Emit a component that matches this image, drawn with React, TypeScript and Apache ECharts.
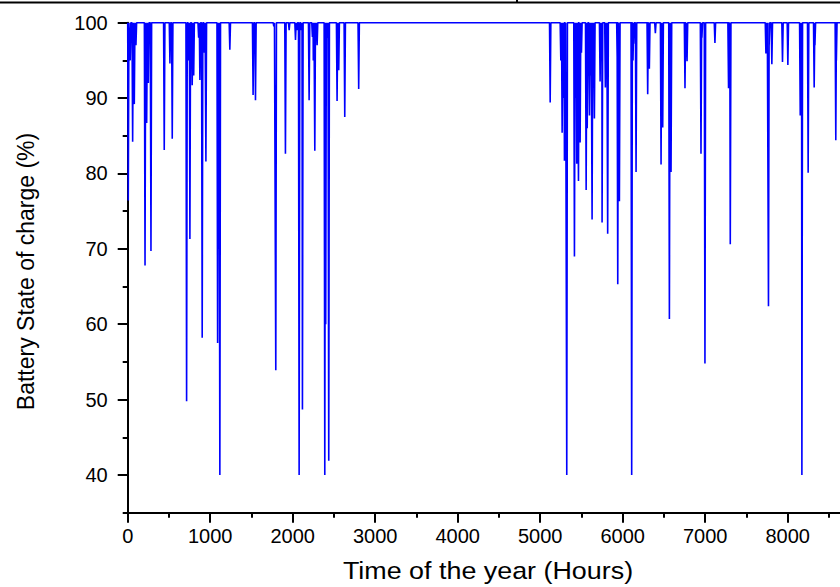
import React, { useEffect, useRef } from "react";
import * as echarts from "echarts";

// Hours of the year at which the battery state of charge dips, and the lowest value reached (%)
const dipHours = [
  7, 30, 60, 80, 100, 210, 230, 250, 282, 443, 512, 540, 714, 740, 754, 782, 800, 860, 875, 903, 930, 948,
  1090, 1100, 1117, 1238, 1520, 1549, 1771, 1795, 1912, 1957, 2034, 2050, 2078, 2105, 2118, 2199, 2239, 2250,
  2268, 2280, 2296, 2389, 2400, 2420, 2437, 2538, 2548, 2558, 2631, 2800,
  5121, 5250, 5266, 5280, 5294, 5300, 5322, 5415, 5430, 5443, 5464, 5470, 5484, 5500, 5557, 5570, 5597, 5610,
  5629, 5640, 5657, 5726, 5740, 5750, 5790, 5800, 5818, 5935, 5940, 5960, 6109, 6115, 6125, 6133, 6162, 6303,
  6310, 6323, 6396, 6465, 6485, 6566, 6575, 6586, 6755, 6760, 6780, 6949, 6960, 6997, 7118, 7283, 7290, 7304,
  7736, 7745, 7767, 7775, 7808, 7937, 8002, 8152, 8160, 8172, 8248, 8321, 8330, 8583, 8590,
];
const dipValues = [
  76.4, 95, 84.2, 89.2, 97, 67.8, 86.7, 92, 69.7, 83.1, 94.6, 84.6, 49.8, 95, 71.3, 91.7, 93, 98, 92.4, 58.2, 96, 81.6,
  57.5, 70, 40, 96.4, 90.4, 89.7, 99.5, 53.9, 82.6, 99.0, 97.7, 99, 40, 99, 48.7, 89.7, 98.1, 95,
  83.0, 99, 97.0, 40, 60, 98, 41.9, 89.6, 97, 93.7, 87.5, 91.2,
  89.4, 95, 85.4, 90, 81.7, 96, 40, 69.0, 90, 81.3, 79.0, 93, 84.1, 96, 77.8, 86, 87.7, 93,
  73.9, 95, 87.3, 92.2, 96, 73.5, 91.4, 97, 72.0, 94, 65.3, 76.3, 40, 98, 95, 97.2, 80.2, 90.5,
  96, 93.9, 98.6, 81.2, 86.1, 60.7, 95, 80.2, 91.3, 97, 94.9, 82.6, 98, 54.8, 97.3, 91.3, 97, 70.6,
  95.9, 96, 62.4, 97, 94.5, 94.8, 94.4, 87.7, 96, 40, 80.1, 91.4, 97, 84.4, 95,
];
const hoursInYear = 8760;
const fullCharge = 100;
const xTickLabels = [0, 1000, 2000, 3000, 4000, 5000, 6000, 7000, 8000];
const yTickLabels = [40, 50, 60, 70, 80, 90, 100];

const FONT = "'Liberation Sans', Arial, Helvetica, sans-serif";

export default function App() {
  const ref = useRef<HTMLDivElement>(null);

  useEffect(() => {
    if (!ref.current) return;
    const chart = echarts.init(ref.current, null, { renderer: "svg" });

    const dips = dipHours.map((h, i) => [h, dipValues[i]]).sort((a, b) => a[0] - b[0]);
    const data: number[][] = [[0, fullCharge]];
    dips.forEach(([h, v]) => {
      data.push([h - 8, fullCharge]);
      data.push([h, v]);
      data.push([h + 8, fullCharge]);
    });
    data.push([hoursInYear, fullCharge]);

    const axisColor = "#000";
    const grid = { left: 127.7, top: 22.7, width: 722.7, height: 490 };

    chart.setOption({
      animation: false,
      backgroundColor: "#ffffff",
      grid,
      xAxis: [
        {
          type: "value",
          min: 0,
          max: hoursInYear,
          position: "bottom",
          axisLine: { onZero: false, lineStyle: { color: axisColor, width: 2 } },
          axisTick: { customValues: xTickLabels, length: 10, lineStyle: { color: axisColor, width: 2 } },
          axisLabel: {
            customValues: xTickLabels,
            formatter: (v: number) => String(v),
            fontSize: 20,
            color: "#000",
            fontFamily: FONT,
            margin: 13,
          },
          splitLine: { show: false },
        },
        {
          type: "value",
          min: 0,
          max: hoursInYear,
          interval: 500,
          position: "bottom",
          axisLine: { show: false, onZero: false },
          axisTick: { length: 5, lineStyle: { color: axisColor, width: 2 } },
          axisLabel: { show: false },
          splitLine: { show: false },
        },
      ],
      yAxis: [
        {
          type: "value",
          min: 35,
          max: 100,
          position: "left",
          axisLine: { show: true, onZero: false, lineStyle: { color: axisColor, width: 2 } },
          axisTick: { show: true, customValues: yTickLabels, length: 10, lineStyle: { color: axisColor, width: 2 } },
          axisLabel: {
            customValues: yTickLabels,
            formatter: (v: number) => String(v),
            fontSize: 20,
            color: "#000",
            fontFamily: FONT,
            margin: 20,
          },
          splitLine: { show: false },
        },
        {
          type: "value",
          min: 35,
          max: 100,
          interval: 5,
          position: "left",
          axisLine: { show: false, onZero: false },
          axisTick: { show: true, length: 5, lineStyle: { color: axisColor, width: 2 } },
          axisLabel: { show: false },
          splitLine: { show: false },
        },
      ],
      series: [
        {
          type: "line",
          xAxisIndex: 0,
          yAxisIndex: 0,
          data,
          showSymbol: false,
          symbol: "none",
          lineStyle: { color: "#0000ff", width: 1.6 },
        },
      ],
      graphic: [
        {
          type: "line",
          shape: { x1: 0, y1: 2.5, x2: 840, y2: 2.5 },
          style: { stroke: "#000", lineWidth: 2 },
        },
        {
          type: "line",
          shape: { x1: 517, y1: 0, x2: 517, y2: 3 },
          style: { stroke: "#000", lineWidth: 2 },
        },
        {
          type: "text",
          x: 25.5,
          y: 271.5,
          rotation: Math.PI / 2,
          style: {
            text: "Battery State of charge (%)",
            font: `23px ${FONT}`,
            fill: "#000",
            align: "center",
            verticalAlign: "middle",
          },
        },
        {
          type: "text",
          x: 488,
          y: 571,
          scaleX: 1.12,
          style: {
            text: "Time of the year (Hours)",
            font: `24px ${FONT}`,
            fill: "#000",
            align: "center",
            verticalAlign: "middle",
          },
        },
      ],
    });

    return () => chart.dispose();
  }, []);

  return (
    <div
      style={{
        position: "fixed",
        left: 0,
        top: 0,
        width: 840,
        height: 587,
        overflow: "hidden",
        background: "#fff",
      }}
    >
      <div ref={ref} style={{ width: 880, height: 587 }} />
    </div>
  );
}
